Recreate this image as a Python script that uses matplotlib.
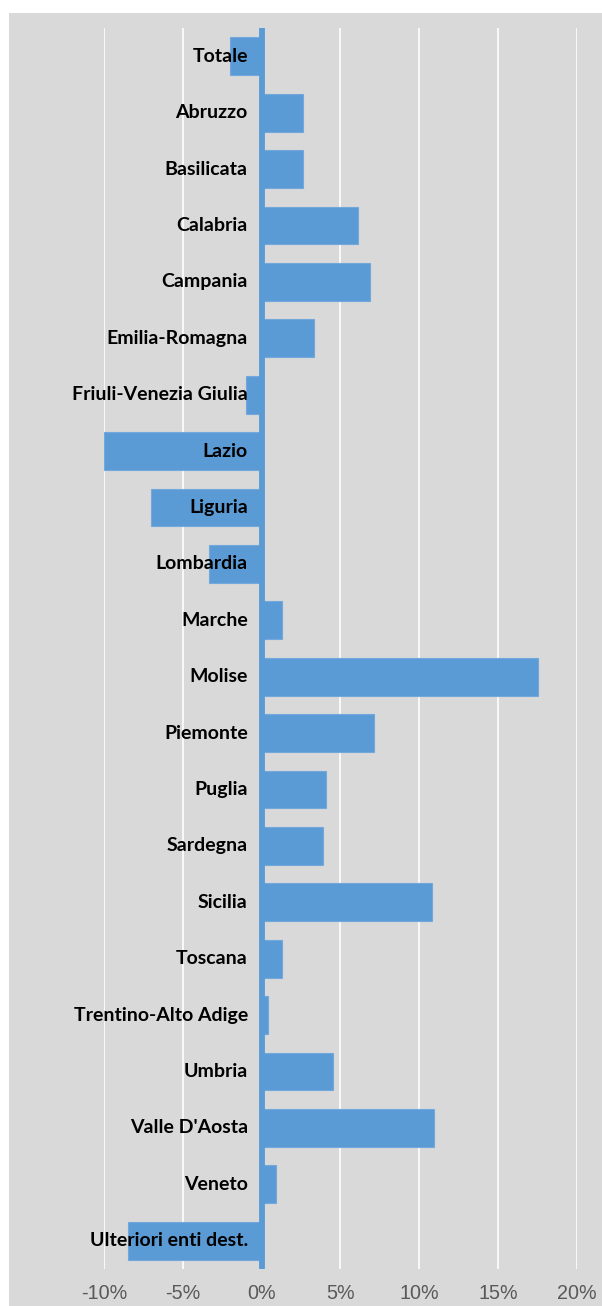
import matplotlib
matplotlib.use("Agg")
import matplotlib.pyplot as plt
from matplotlib.patches import Rectangle
from matplotlib.transforms import offset_copy

categories = ["Totale", "Abruzzo", "Basilicata", "Calabria", "Campania",
              "Emilia-Romagna", "Friuli-Venezia Giulia", "Lazio", "Liguria",
              "Lombardia", "Marche", "Molise", "Piemonte", "Puglia", "Sardegna",
              "Sicilia", "Toscana", "Trentino-Alto Adige", "Umbria",
              "Valle D'Aosta", "Veneto", "Ulteriori enti dest."]
values = [-2.0, 2.6, 2.6, 6.1, 6.9, 3.35, -1.0, -10.0, -7.0, -3.35, 1.3,
          17.5, 7.15, 4.1, 3.9, 10.8, 1.27, 0.4, 4.55, 10.9, 0.9, -8.5]
xticks = [-10, -5, 0, 5, 10, 15, 20]
xticklabels = ["-10%", "-5%", "0%", "5%", "10%", "15%", "20%"]

BAR = "#5b9bd5"
W, H = 602, 1306
fig = plt.figure(figsize=(W / 100, H / 100), dpi=100)
fig.patch.set_facecolor("white")
fig.add_artist(Rectangle((9 / W, 0), 1, 1 - 13 / H, transform=fig.transFigure,
                         facecolor="#d9d9d9", edgecolor="none", zorder=0))

ax = fig.add_axes([104 / W, 1 - 1269 / H, 473 / W, (1269 - 28) / H])
ax.patch.set_alpha(0)
ypos = list(range(len(categories)))
ax.barh(ypos, values, height=0.67, color=BAR, edgecolor="#72a8dc",
        linewidth=0.8, zorder=2)
ax.axvline(0, color=BAR, lw=4.2, zorder=3)
ax.set_xlim(-10, 20)
ax.set_ylim(len(categories) - 0.5, -0.5)
ax.set_xticks(xticks)
ax.set_xticklabels(xticklabels, family=["Liberation Sans", "DejaVu Sans"],
                   fontsize=14.2, color="#595959")
ax.tick_params(axis="x", length=0, pad=11)
ax.set_yticks([])
for s in ax.spines.values():
    s.set_visible(False)
ax.grid(axis="x", color="white", lw=1.2, zorder=1)
ax.set_axisbelow(True)

trans = offset_copy(ax.transData, fig=fig, x=-10, y=0, units="points")
for y, c in zip(ypos, categories):
    ax.text(0, y, c, transform=trans, ha="right", va="center",
            fontsize=14, fontweight="bold", family=["Lato", "DejaVu Sans"],
            color="black", zorder=4)

fig.savefig("out.png", dpi=100, facecolor=fig.get_facecolor())
